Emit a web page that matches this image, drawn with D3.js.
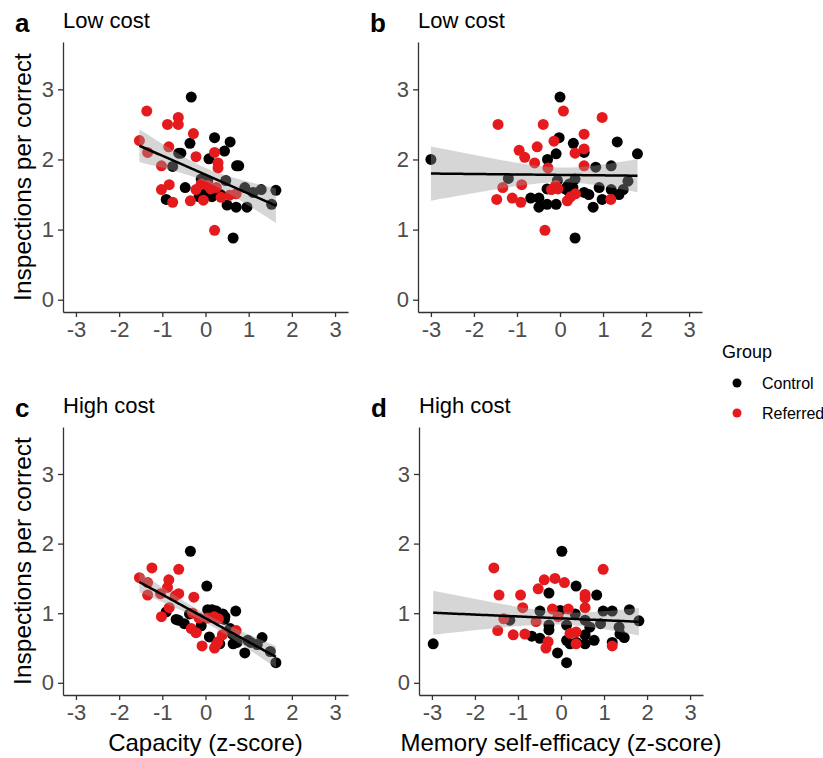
<!DOCTYPE html>
<meta charset="utf-8">
<style>
  body { margin: 0; background: #fff; }
  text { font-family: "Liberation Sans", Arial, sans-serif; }
  .tick text { fill: #4d4d4d; font-size: 22px; }
  .tick line, .domain { stroke: #333; stroke-width: 1.3px; }
</style>
<body>
<svg id="chart" width="823" height="758"></svg>
<script src="https://d3js.org/d3.v7.min.js"></script>
<script>
// tick values
var xTicks = [-3, -2, -1, 0, 1, 2, 3];
var yTicks = [0, 1, 2, 3];

// a: capacity vs inspections, low cost
var aCtrl = [[-0.33,2.89],[-0.36,2.23],[-0.62,2.09],[-0.57,2.09],[0.21,2.31],[0.57,2.25],[0.44,2.12],[0.08,2.01],
  [0.72,1.91],[0.77,1.91],[-0.76,1.90],[-0.47,1.60],[-0.91,1.43],[-0.10,1.72],[0.05,1.70],[0.47,1.70],[0.91,1.60],
  [1.10,1.53],[1.29,1.57],[1.63,1.56],[1.53,1.36],[0.50,1.35],[0.71,1.32],[0.96,1.32],[0.64,0.88],[-0.05,1.50],
  [0.08,1.55],[0.15,1.47],[0.25,1.52],[0.35,1.50],[-0.15,1.47]];
var aRef = [[-1.53,2.27],[-1.36,2.69],[-1.34,2.10],[-0.88,2.50],[-0.63,2.60],[-0.63,2.50],[-0.85,2.18],[-0.28,2.37],
  [-0.22,2.04],[-1.02,1.91],[-0.84,1.64],[-1.02,1.57],[-0.76,1.39],[-0.35,1.41],[0.21,2.10],[0.29,1.95],[0.29,1.88],
  [-0.10,1.65],[0.05,1.63],[0.25,1.60],[-0.22,1.57],[-0.05,1.42],[0.36,1.46],[0.56,1.49],[0.71,1.51],[0.21,0.99],[0.12,1.58]];

// b: memory self-efficacy vs inspections, low cost
var bCtrl = [[-3.0,2.0],[0.0,2.89],[-0.02,2.31],[0.31,2.23],[1.33,2.25],[1.80,2.08],[-0.29,2.00],[-0.09,2.08],
  [0.56,2.10],[0.83,1.89],[1.19,1.91],[1.58,1.69],[-1.2,1.73],[-0.68,1.45],[-0.49,1.45],[-0.49,1.32],[-0.3,1.58],
  [-0.3,1.36],[-0.09,1.36],[-0.06,1.70],[0.56,1.53],[0.67,1.50],[0.91,1.60],[0.77,1.32],[0.98,1.43],[1.19,1.57],
  [1.37,1.50],[1.47,1.57],[0.35,0.88],[0.12,1.58],[0.18,1.62],[0.22,1.65],[0.30,1.60],[0.35,1.72],[0.20,1.55]];
var bRef = [[-1.44,2.50],[-0.39,2.50],[0.08,2.69],[0.98,2.60],[0.56,2.36],[-0.14,2.26],[0.56,2.15],[0.35,2.09],
  [-0.95,2.13],[-0.82,2.03],[-0.53,2.18],[-0.59,1.95],[-0.28,1.88],[0.56,1.91],[-1.33,1.60],[-0.89,1.64],[-1.47,1.43],
  [-1.11,1.45],[-0.91,1.39],[-0.2,1.57],[-0.1,1.63],[-0.05,1.58],[0.17,1.41],[0.25,1.47],[0.36,1.51],[1.18,1.43],[-0.35,0.99]];

// c: capacity vs inspections, high cost
var cCtrl = [[-0.35,1.89],[0.03,1.39],[0.70,1.03],[1.31,0.65],[1.63,0.29],[1.50,0.45],[0.98,0.61],[0.91,0.43],
  [0.64,0.56],[0.73,0.58],[0.57,0.78],[0.40,0.99],[0.44,0.91],[0.05,1.05],[0.15,1.05],[0.25,1.03],[0.10,0.98],
  [-0.63,0.90],[-0.68,0.91],[-0.49,0.85],[-0.91,1.02],[-0.37,0.99],[-0.10,0.82],[-0.22,0.73],[0.09,0.66],[0.33,0.56],
  [0.45,0.95],[0.62,0.70],[1.05,0.58],[1.20,0.55]];
var cRef = [[-1.53,1.51],[-1.34,1.44],[-1.24,1.65],[-0.62,1.63],[-0.85,1.48],[-0.88,1.37],[-1.34,1.26],[-0.62,1.28],
  [-0.27,1.23],[-1.04,1.28],[-0.84,1.08],[-1.02,0.95],[-0.33,0.78],[-0.22,0.72],[-0.08,0.53],[0.21,0.50],[0.29,0.59],
  [0.05,0.93],[0.2,0.95],[0.3,0.92],[0.39,0.69],[0.71,0.75],[-0.3,1.0],[-0.15,0.93],[0.25,0.55],[-0.7,1.25]];

// d: memory self-efficacy vs inspections, high cost
var dCtrl = [[-2.97,0.56],[0.02,1.89],[0.35,1.39],[-0.28,1.29],[0.83,1.26],[1.59,1.05],[0.98,1.03],[1.19,1.03],
  [1.81,0.89],[-1.19,0.90],[-0.49,1.03],[-0.02,1.04],[0.33,0.99],[0.13,0.83],[-0.28,0.83],[-0.28,0.76],[0.56,0.90],
  [0.67,0.80],[0.56,0.69],[0.92,0.85],[1.35,0.80],[1.37,0.70],[1.47,0.65],[1.19,0.58],[0.77,0.61],[0.56,0.56],
  [0.36,0.58],[0.13,0.61],[0.21,0.56],[-0.68,0.67],[-0.49,0.64],[-0.08,0.43],[0.13,0.29]];
var dRef = [[-1.56,1.65],[0.98,1.63],[-1.44,1.26],[-0.94,1.26],[-0.89,1.08],[-1.33,0.92],[-1.47,0.75],[-1.11,0.69],
  [-0.84,0.70],[-0.53,1.35],[-0.39,1.48],[-0.14,1.50],[0.08,1.44],[0.56,1.27],[0.56,1.22],[0.56,1.08],[0.17,1.06],
  [-0.2,1.06],[-0.58,0.88],[-0.07,0.95],[0.21,0.71],[0.35,0.73],[-0.30,0.59],[-0.35,0.50],[0.35,0.56],[1.19,0.53]];

var groups = ["Control", "Referred"];
var colors = {Control: "#000000", Referred: "#e41a1c"};

var panels = [
  {letter: "a", title: "Low cost", ctrl: aCtrl, ref: aRef, left: 63, top: 42, w: 285, h: 270, ytitle: true, xtitle: null},
  {letter: "b", title: "Low cost", ctrl: bCtrl, ref: bRef, left: 418, top: 42, w: 284, h: 270, ytitle: false, xtitle: null},
  {letter: "c", title: "High cost", ctrl: cCtrl, ref: cRef, left: 63, top: 427, w: 285, h: 268, ytitle: true, xtitle: "Capacity (z-score)"},
  {letter: "d", title: "High cost", ctrl: dCtrl, ref: dRef, left: 419, top: 427, w: 284, h: 268, ytitle: false, xtitle: "Memory self-efficacy (z-score)"}
];

var svg = d3.select("#chart");
var plain = function(d) { return String(d); };

// simple lm fit with 95% band, like geom_smooth(method = "lm")
function lmFit(pts) {
  var n = pts.length;
  var mx = d3.mean(pts, function(d) { return d[0]; });
  var my = d3.mean(pts, function(d) { return d[1]; });
  var sxx = d3.sum(pts, function(d) { return (d[0] - mx) * (d[0] - mx); });
  var sxy = d3.sum(pts, function(d) { return (d[0] - mx) * (d[1] - my); });
  var b = sxy / sxx, a = my - b * mx;
  var sse = d3.sum(pts, function(d) { var r = d[1] - (a + b * d[0]); return r * r; });
  var s = Math.sqrt(sse / (n - 2));
  var t = 2.0;
  var ext = d3.extent(pts, function(d) { return d[0]; });
  return d3.range(81).map(function(i) {
    var x = ext[0] + (ext[1] - ext[0]) * i / 80;
    var fit = a + b * x;
    var se = s * Math.sqrt(1 / n + (x - mx) * (x - mx) / sxx);
    return {x: x, fit: fit, lo: fit - t * se, hi: fit + t * se};
  });
}

panels.forEach(function(p) {
  var x = d3.scaleLinear().domain([-3.3, 3.3]).range([0, p.w]);
  var y = d3.scaleLinear().domain([-0.175, 3.675]).range([p.h, 0]);
  var g = svg.append("g").attr("transform", "translate(" + p.left + "," + p.top + ")");

  g.append("g")
    .attr("transform", "translate(0," + p.h + ")")
    .call(d3.axisBottom(x).tickValues(xTicks).tickFormat(plain).tickSize(5).tickPadding(4).tickSizeOuter(0));
  g.append("g")
    .call(d3.axisLeft(y).tickValues(yTicks).tickFormat(plain).tickSize(5).tickPadding(4).tickSizeOuter(0));

  var pts = p.ctrl.map(function(d) { return {x: d[0], y: d[1], grp: "Control"}; })
    .concat(p.ref.map(function(d) { return {x: d[0], y: d[1], grp: "Referred"}; }));

  g.selectAll(".pt")
    .data(pts)
    .enter().append("circle")
    .attr("class", "pt")
    .attr("cx", function(d) { return x(d.x); })
    .attr("cy", function(d) { return y(d.y); })
    .attr("r", 5.5)
    .attr("fill", function(d) { return colors[d.grp]; });

  var fit = lmFit(p.ctrl.concat(p.ref));
  g.append("path")
    .datum(fit)
    .attr("fill", "#999999")
    .attr("fill-opacity", 0.4)
    .attr("d", d3.area()
      .x(function(d) { return x(d.x); })
      .y0(function(d) { return y(d.lo); })
      .y1(function(d) { return y(d.hi); }));
  g.append("path")
    .datum(fit)
    .attr("fill", "none")
    .attr("stroke", "#000")
    .attr("stroke-width", 2.5)
    .attr("d", d3.line()
      .x(function(d) { return x(d.x); })
      .y(function(d) { return y(d.fit); }));

  // panel letter + title
  svg.append("text")
    .attr("x", p.left - 48)
    .attr("y", p.top - 10)
    .attr("font-size", 26)
    .attr("font-weight", "bold")
    .text(p.letter);
  svg.append("text")
    .attr("x", p.left)
    .attr("y", p.top - 14)
    .attr("font-size", 22)
    .text(p.title);

  if (p.ytitle) {
    svg.append("text")
      .attr("transform", "translate(31," + (p.top + p.h / 2) + ") rotate(-90)")
      .attr("text-anchor", "middle")
      .attr("font-size", 24.5)
      .text("Inspections per correct");
  }
  if (p.xtitle) {
    svg.append("text")
      .attr("x", p.left + p.w / 2)
      .attr("y", 751)
      .attr("text-anchor", "middle")
      .attr("font-size", 24)
      .text(p.xtitle);
  }
});

// legend
var legend = svg.append("g").attr("transform", "translate(722,358)");
legend.append("text").attr("font-size", 18).text("Group");
groups.forEach(function(gName, i) {
  legend.append("circle")
    .attr("cx", 15)
    .attr("cy", 25 + i * 30)
    .attr("r", 4.5)
    .attr("fill", colors[gName]);
  legend.append("text")
    .attr("x", 40)
    .attr("y", 31 + i * 30)
    .attr("font-size", 16)
    .text(gName);
});
</script>
</body>
